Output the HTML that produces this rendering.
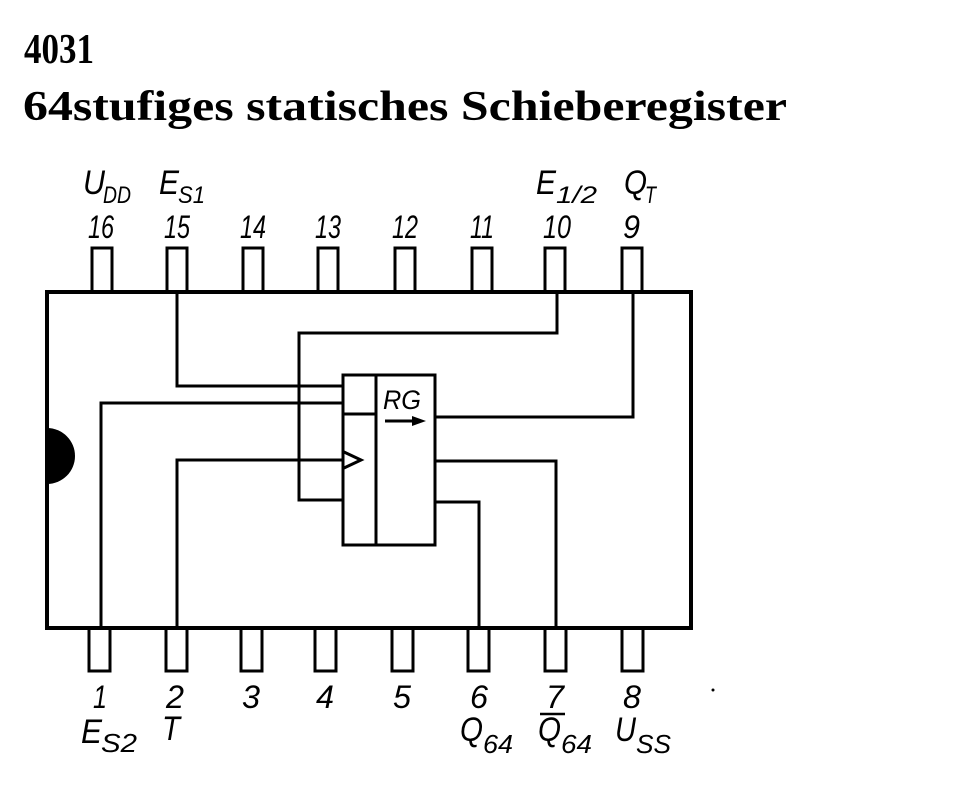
<!DOCTYPE html>
<html><head><meta charset="utf-8"><style>
html,body{margin:0;padding:0;background:#fff;}
svg{display:block;}
.t{font-family:"Liberation Serif",serif;font-weight:bold;fill:#000;}
.l{font-family:"Liberation Sans",sans-serif;font-style:italic;fill:#000;}
</style></head><body>
<svg width="968" height="785" viewBox="0 0 968 785" xmlns="http://www.w3.org/2000/svg">
<rect width="968" height="785" fill="#fff"/>
<text class="t" x="24" y="63" font-size="42" textLength="70" lengthAdjust="spacingAndGlyphs">4031</text>
<text class="t" x="23" y="120" font-size="42" textLength="764" lengthAdjust="spacingAndGlyphs">64stufiges statisches Schieberegister</text>

<g fill="#fff" stroke="#000" stroke-width="3">
<rect x="92" y="248" width="20" height="44"/>
<rect x="167" y="248" width="20" height="44"/>
<rect x="243" y="248" width="20" height="44"/>
<rect x="318" y="248" width="20" height="44"/>
<rect x="395" y="248" width="20" height="44"/>
<rect x="472" y="248" width="20" height="44"/>
<rect x="545" y="248" width="20" height="44"/>
<rect x="622" y="248" width="20" height="44"/>
<rect x="89" y="628" width="21" height="43"/>
<rect x="166" y="628" width="21" height="43"/>
<rect x="241" y="628" width="21" height="43"/>
<rect x="315" y="628" width="21" height="43"/>
<rect x="392" y="628" width="21" height="43"/>
<rect x="468" y="628" width="21" height="43"/>
<rect x="545" y="628" width="21" height="43"/>
<rect x="622" y="628" width="21" height="43"/>
</g>
<rect x="47" y="292" width="644" height="336" fill="#fff" stroke="#000" stroke-width="4"/>
<path d="M47 428 A28 28 0 0 1 47 484 Z" fill="#000"/>

<g fill="none" stroke="#000" stroke-width="3">
<polyline points="177,292 177,386 343,386"/>
<polyline points="557,292 557,333 299,333 299,500 343,500"/>
<polyline points="101,628 101,403 343,403"/>
<polyline points="177,628 177,460 343,460"/>
<polyline points="435,417 633,417 633,292"/>
<polyline points="435,461 556,461 556,628"/>
<polyline points="435,502 479,502 479,628"/>
<rect x="343" y="375" width="33" height="170"/>
<rect x="376" y="375" width="59" height="170"/>
<line x1="343" y1="414" x2="376" y2="414"/>
<polyline points="344,452 361,460 344,468"/>
<line x1="385" y1="421" x2="414" y2="421"/>
<line x1="540" y1="714" x2="565" y2="714" stroke-width="2.5"/>
</g>
<path d="M412 416 L426 421 L412 426 Z" fill="#000"/>
<text class="l" x="383" y="409" font-size="27" textLength="38" lengthAdjust="spacingAndGlyphs">RG</text>

<g class="l" font-size="32">
<text x="88" y="238" textLength="26" lengthAdjust="spacingAndGlyphs">16</text>
<text x="164" y="238" textLength="26" lengthAdjust="spacingAndGlyphs">15</text>
<text x="240" y="238" textLength="26" lengthAdjust="spacingAndGlyphs">14</text>
<text x="315" y="238" textLength="26" lengthAdjust="spacingAndGlyphs">13</text>
<text x="392" y="238" textLength="26" lengthAdjust="spacingAndGlyphs">12</text>
<text x="470" y="238" textLength="24" lengthAdjust="spacingAndGlyphs">11</text>
<text x="543" y="238" textLength="28" lengthAdjust="spacingAndGlyphs">10</text>
<text x="623" y="238" textLength="17" lengthAdjust="spacingAndGlyphs">9</text>
<text x="93" y="708" textLength="14" lengthAdjust="spacingAndGlyphs">1</text>
<text x="166" y="708" textLength="18" lengthAdjust="spacingAndGlyphs">2</text>
<text x="242" y="708" textLength="18" lengthAdjust="spacingAndGlyphs">3</text>
<text x="316" y="708" textLength="18" lengthAdjust="spacingAndGlyphs">4</text>
<text x="393" y="708" textLength="18" lengthAdjust="spacingAndGlyphs">5</text>
<text x="470" y="708" textLength="18" lengthAdjust="spacingAndGlyphs">6</text>
<text x="546" y="708" textLength="18" lengthAdjust="spacingAndGlyphs">7</text>
<text x="623" y="708" textLength="18" lengthAdjust="spacingAndGlyphs">8</text>
</g>
<g class="l" font-size="34">
<text x="83" y="194" textLength="22" lengthAdjust="spacingAndGlyphs">U</text>
<text x="103" y="203" font-size="24" textLength="28" lengthAdjust="spacingAndGlyphs">DD</text>
<text x="159" y="194" textLength="20" lengthAdjust="spacingAndGlyphs">E</text>
<text x="178" y="203" font-size="24" textLength="27" lengthAdjust="spacingAndGlyphs">S1</text>
<text x="536" y="194" textLength="20" lengthAdjust="spacingAndGlyphs">E</text>
<text x="556" y="203" font-size="24" textLength="41" lengthAdjust="spacingAndGlyphs">1/2</text>
<text x="624" y="194" textLength="23" lengthAdjust="spacingAndGlyphs">Q</text>
<text x="645" y="203" font-size="24" textLength="11" lengthAdjust="spacingAndGlyphs">T</text>

<text x="81" y="743" textLength="21" lengthAdjust="spacingAndGlyphs">E</text>
<text x="101" y="752" font-size="26" textLength="36" lengthAdjust="spacingAndGlyphs">S2</text>
<text x="162" y="740" textLength="18" lengthAdjust="spacingAndGlyphs">T</text>
<text x="460" y="741" textLength="23" lengthAdjust="spacingAndGlyphs">Q</text>
<text x="483" y="753" font-size="26" textLength="30" lengthAdjust="spacingAndGlyphs">64</text>
<text x="538" y="741" textLength="23" lengthAdjust="spacingAndGlyphs">Q</text>
<text x="561" y="753" font-size="26" textLength="31" lengthAdjust="spacingAndGlyphs">64</text>
<text x="615" y="741" textLength="21" lengthAdjust="spacingAndGlyphs">U</text>
<text x="636" y="753" font-size="26" textLength="35" lengthAdjust="spacingAndGlyphs">SS</text>
</g>
<circle cx="713" cy="690" r="1.5" fill="#000"/>
</svg>
</body></html>
